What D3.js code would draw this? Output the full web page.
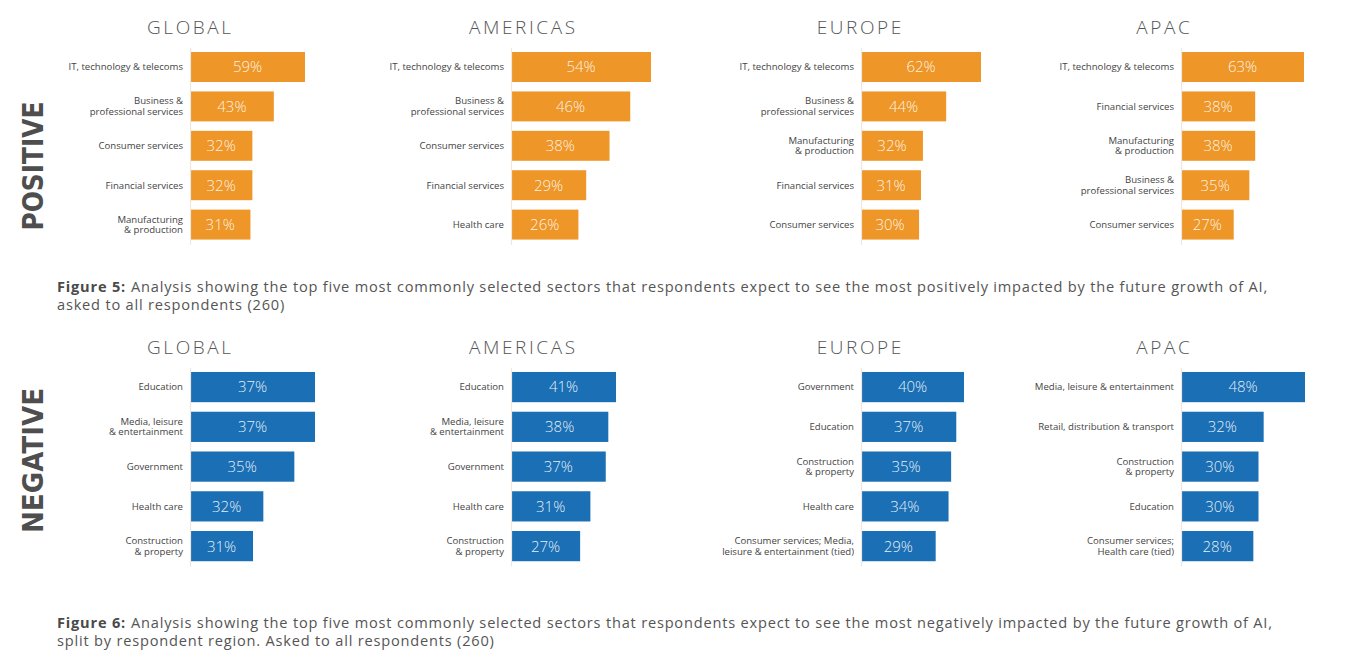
<!DOCTYPE html>
<html><head><meta charset="utf-8">
<script src="https://cdn.jsdelivr.net/npm/d3@7"></script>
<style>body{margin:0;background:#fff} svg{display:block}</style>
</head><body><svg id="c" width="1349" height="660"></svg>
<script>
// ---------- DATA ----------
const regions = ["GLOBAL", "AMERICAS", "EUROPE", "APAC"];

const posGlobalLabels   = ["IT, technology & telecoms", "Business &\nprofessional services", "Consumer services", "Financial services", "Manufacturing\n& production"];
const posGlobalValues   = [59, 43, 32, 32, 31];
const posAmericasLabels = ["IT, technology & telecoms", "Business &\nprofessional services", "Consumer services", "Financial services", "Health care"];
const posAmericasValues = [54, 46, 38, 29, 26];
const posEuropeLabels   = ["IT, technology & telecoms", "Business &\nprofessional services", "Manufacturing\n& production", "Financial services", "Consumer services"];
const posEuropeValues   = [62, 44, 32, 31, 30];
const posApacLabels     = ["IT, technology & telecoms", "Financial services", "Manufacturing\n& production", "Business &\nprofessional services", "Consumer services"];
const posApacValues     = [63, 38, 38, 35, 27];

const negGlobalLabels   = ["Education", "Media, leisure\n& entertainment", "Government", "Health care", "Construction\n& property"];
const negGlobalValues   = [37, 37, 35, 32, 31];
const negAmericasLabels = ["Education", "Media, leisure\n& entertainment", "Government", "Health care", "Construction\n& property"];
const negAmericasValues = [41, 38, 37, 31, 27];
const negEuropeLabels   = ["Government", "Education", "Construction\n& property", "Health care", "Consumer services; Media,\nleisure & entertainment (tied)"];
const negEuropeValues   = [40, 37, 35, 34, 29];
const negApacLabels     = ["Media, leisure & entertainment", "Retail, distribution & transport", "Construction\n& property", "Education", "Consumer services;\nHealth care (tied)"];
const negApacValues     = [48, 32, 30, 30, 28];

// value at which each panel's bars start (scale domain start)
const posDomainStart = [0, 0, 0, 0];
const negDomainStart = [24.9, 0, 0, 0];

const caption5Bold = "Figure 5:";
const caption5Line1 = "Analysis showing the top five most commonly selected sectors that respondents expect to see the most positively impacted by the future growth of AI,";
const caption5Line2 = "asked to all respondents (260)";
const caption6Bold = "Figure 6:";
const caption6Line1 = "Analysis showing the top five most commonly selected sectors that respondents expect to see the most negatively impacted by the future growth of AI,";
const caption6Line2 = "split by respondent region. Asked to all respondents (260)";

// ---------- LAYOUT ----------
const FONT = "'Open Sans', 'Noto Sans', Lato, sans-serif";
const axisX = [190, 511, 861, 1181];
const titleCX = [189, 522, 859, 1163];
const posMaxW = [115, 140, 120, 123];
const negMaxW = [125, 105, 103, 124];

const svg = d3.select("#c");

const sections = [
  { name: "POSITIVE", color: "#EE9627", labels: [posGlobalLabels, posAmericasLabels, posEuropeLabels, posApacLabels],
    values: [posGlobalValues, posAmericasValues, posEuropeValues, posApacValues], starts: posDomainStart, maxW: posMaxW,
    band: [47.3, 244.3], titleY: 34, sideCY: 166, sideLen: 129 },
  { name: "NEGATIVE", color: "#1B6FB5", labels: [negGlobalLabels, negAmericasLabels, negEuropeLabels, negApacLabels],
    values: [negGlobalValues, negAmericasValues, negEuropeValues, negApacValues], starts: negDomainStart, maxW: negMaxW,
    band: [367.2, 566], titleY: 354, sideCY: 460.5, sideLen: 145 }
];

sections.forEach(sec => {
  svg.append("text")
    .attr("transform", `translate(43,${sec.sideCY}) rotate(-90)`)
    .attr("text-anchor", "middle")
    .attr("font-family", "'DejaVu Sans', sans-serif").attr("font-weight", 900)
    .attr("font-size", 29).attr("fill", "#4e4e4e")
    .attr("textLength", sec.sideLen).attr("lengthAdjust", "spacingAndGlyphs")
    .text(sec.name);

  regions.forEach((reg, pi) => {
    const labels = sec.labels[pi], values = sec.values[pi];
    svg.append("text")
      .attr("x", titleCX[pi] + 1.3).attr("y", sec.titleY)
      .attr("text-anchor", "middle")
      .attr("font-family", FONT).attr("font-weight", 300)
      .attr("font-size", 19).attr("letter-spacing", 2.6).attr("fill", "#555")
      .text(reg);

    const x = d3.scaleLinear().domain([sec.starts[pi], d3.max(values)]).range([0, sec.maxW[pi]]);
    const y = d3.scaleBand().domain(d3.range(values.length)).range(sec.band)
      .paddingInner(0.24).paddingOuter(0.12);

    const g = svg.append("g").attr("transform", `translate(${axisX[pi]},0)`);

    g.selectAll("rect").data(values).join("rect")
      .attr("x", 0).attr("y", (d, i) => y(i))
      .attr("width", d => x(d)).attr("height", y.bandwidth())
      .attr("fill", sec.color);

    g.selectAll("text.val").data(values).join("text").attr("class", "val")
      .attr("x", d => x(d) / 2).attr("y", (d, i) => y(i) + y.bandwidth() / 2)
      .attr("dy", "0.36em").attr("text-anchor", "middle")
      .attr("font-family", FONT).attr("font-weight", 300).attr("font-size", 15)
      .attr("fill", "#fff").attr("fill-opacity", 0.9)
      .text(d => d + "%");

    const ax = g.append("g").call(d3.axisLeft(y).tickSize(0).tickPadding(7).tickFormat(i => labels[i]));
    ax.select(".domain").attr("stroke", "#ede7df").attr("stroke-width", 1.2);
    ax.selectAll(".tick text")
      .attr("font-family", FONT).attr("font-size", 9.6).attr("fill", "#444")
      .each(function(i) {
        const lines = labels[i].split("\n");
        const t = d3.select(this);
        t.text(null).attr("dy", null);
        const lh = 10.6;
        lines.forEach((ln, k) => {
          t.append("tspan").attr("x", -7)
            .attr("dy", k === 0 ? (3.3 - (lines.length - 1) * lh / 2) : lh)
            .text(ln);
        });
      });
  });
});

// captions
const CAP_FS = 14.6;
function capText(x, y, str, bold) {
  return svg.append("text").attr("x", x).attr("y", y)
    .attr("font-family", FONT).attr("font-size", CAP_FS)
    .attr("font-weight", bold ? 700 : 400)
    .attr("fill", bold ? "#4a4a4a" : "#555").text(str);
}
function caption(bold, l1, l2, y1, y2, ls) {
  const b = capText(57, y1, bold, true).attr("letter-spacing", ls);
  const bw = b.node().getComputedTextLength();
  const r = capText(57 + bw + 5, y1, l1, false).attr("letter-spacing", ls);
  const r2 = capText(57, y2, l2, false).attr("letter-spacing", ls);
  return [b, r, r2];
}
// measure unspaced width of figure-5 first line to derive letter spacing matching the reference span (57..1268)
const probeB = capText(0, -50, caption5Bold, true), probeR = capText(0, -50, caption5Line1, false);
const baseW = probeB.node().getComputedTextLength() + 5 + probeR.node().getComputedTextLength();
probeB.remove(); probeR.remove();
const nChars = caption5Bold.length + caption5Line1.length;
const ls = Math.max(0, (1211 - baseW) / nChars);
caption(caption5Bold, caption5Line1, caption5Line2, 292, 310, ls);
caption(caption6Bold, caption6Line1, caption6Line2, 628, 646, ls);
</script></body></html>
